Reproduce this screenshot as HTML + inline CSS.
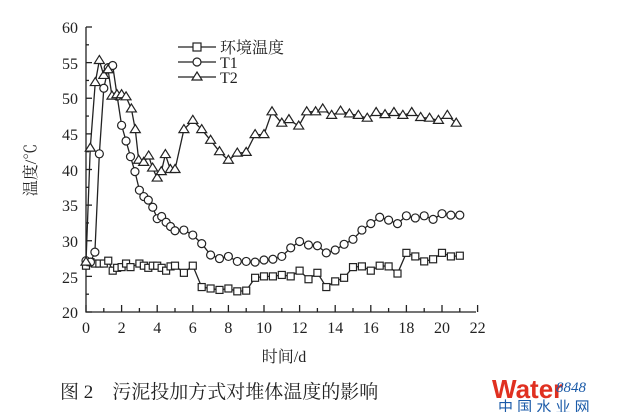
<!DOCTYPE html>
<html><head><meta charset="utf-8"><style>
body{margin:0;background:#fff;width:618px;height:412px;overflow:hidden}
svg{display:block;font-family:"Liberation Serif","Noto Serif CJK SC",serif}
</style></head><body>
<svg id="s" width="618" height="412" viewBox="0 0 618 412">
<g id="ax" stroke="#222" stroke-width="1.3" fill="none">
<path d="M86 27 V312 H476"/>
</g>
<g font-size="16" fill="#222" text-anchor="end">
<text x="78" y="33">60</text><text x="78" y="69">55</text><text x="78" y="104">50</text>
<text x="78" y="140">45</text><text x="78" y="176">40</text><text x="78" y="211">35</text>
<text x="78" y="247">30</text><text x="78" y="283">25</text><text x="78" y="318">20</text>
</g>
<g id="xl" font-size="16" fill="#222" text-anchor="middle"></g>
<text x="36" y="170" font-size="16" fill="#222" transform="rotate(-90 36 170)" text-anchor="middle">温度/℃</text>
<text x="284" y="362" font-size="16" fill="#222" text-anchor="middle">时间/d</text>
<text x="60" y="398" font-size="19" fill="#222">图 2　污泥投加方式对堆体温度的影响</text>
<text x="492" y="398" font-size="26" font-weight="bold" fill="#e03020" font-family="Liberation Sans,sans-serif">Water</text>
<text x="556" y="392" font-size="15" font-style="italic" fill="#1a5aa8">8848</text>
<text x="498" y="412" font-size="15" fill="#1a5aa8" font-family="Liberation Sans,Noto Sans CJK SC,sans-serif">中 国 水 业 网</text>
<g stroke="#222" stroke-width="1.2" fill="none">
<path d="M178 47 H216 M178 62 H216 M178 77 H216"/>
<rect x="193" y="43" width="8" height="8" fill="#fff"/>
<circle cx="197" cy="62" r="4" fill="#fff"/>
<path d="M197 72 L202 80 L192 80 Z" fill="#fff"/>
</g>
<g font-size="16" fill="#222"><text x="220" y="53">环境温度</text><text x="220" y="68">T1</text><text x="220" y="83">T2</text></g>
<g id="d"></g>
</svg>
<script>
var X=d=>86+d*17.8, Y=c=>312-(c-20)*7.125, ns="http://www.w3.org/2000/svg";
function el(t,a,p){var e=document.createElementNS(ns,t);for(var k in a)e.setAttribute(k,a[k]);(p||document.getElementById('d')).appendChild(e);return e;}
var ax=document.getElementById('ax'),xl=document.getElementById('xl');
for(var i=0;i<=22;i++){var x=X(i);el('path',{d:'M'+x+' 312 V'+(i%2?308:305)},ax);if(i%2==0){var t=el('text',{x:x,y:333},xl);t.textContent=i;}}
for(var c=20;c<=60;c+=2.5){el('path',{d:'M86 '+Y(c)+' H'+((c%5)?89:92)},ax);}
var A=[[0,26.5],[0.25,27],[0.5,26.8],[0.75,26.8],[1,26.8],[1.25,27.2],[1.5,25.8],[1.75,26.2],[2,26.3],[2.25,26.8],[2.5,26.3],[3,26.8],[3.25,26.5],[3.5,26.2],[3.75,26.5],[4,26.5],[4.25,26.2],[4.5,25.8],[4.75,26.4],[5,26.5],[5.5,25.5],[6,26.5],[6.5,23.5],[7,23.3],[7.5,23.1],[8,23.3],[8.5,22.9],[9,23],[9.5,24.8],[10,25],[10.5,25],[11,25.2],[11.5,25],[12,25.8],[12.5,24.6],[13,25.5],[13.5,23.5],[14,24.3],[14.5,24.8],[15,26.3],[15.5,26.4],[16,25.8],[16.5,26.5],[17,26.4],[17.5,25.4],[18,28.3],[18.5,27.8],[19,27.1],[19.5,27.4],[20,28.3],[20.5,27.8],[21,27.9]];
var T1=[[0,27.2],[0.25,27],[0.5,28.4],[0.75,42.2],[1,51.4],[1.25,54.3],[1.5,54.6],[1.75,50.3],[2,46.2],[2.25,44],[2.5,41.8],[2.75,39.7],[3,37.1],[3.25,36.2],[3.5,35.7],[3.75,34.7],[4,33.1],[4.25,33.4],[4.5,32.6],[4.75,32],[5,31.4],[5.5,31.5],[6,30.8],[6.5,29.6],[7,28],[7.5,27.5],[8,27.8],[8.5,27.1],[9,27.1],[9.5,27],[10,27.3],[10.5,27.4],[11,27.8],[11.5,29],[12,29.9],[12.5,29.4],[13,29.3],[13.5,28.3],[14,28.7],[14.5,29.5],[15,30.2],[15.5,31.5],[16,32.4],[16.5,33.3],[17,32.9],[17.5,32.4],[18,33.5],[18.5,33.2],[19,33.5],[19.5,33],[20,33.8],[20.5,33.6],[21,33.6]];
var T2=[[0,27],[0.24,43],[0.52,52.2],[0.75,55.3],[1,53.2],[1.24,54],[1.46,50.3],[1.74,50.5],[2,50.5],[2.25,50.2],[2.55,48.5],[2.77,45.6],[2.96,41.3],[3.24,41],[3.52,41.9],[3.74,40.2],[4,38.8],[4.23,39.7],[4.46,42.1],[4.74,40],[5,40],[5.5,45.6],[6,46.9],[6.5,45.6],[7,44.1],[7.5,42.5],[8,41.3],[8.5,42.3],[9,42.4],[9.5,44.9],[10,44.9],[10.45,48.1],[11,46.5],[11.4,47],[11.95,46.1],[12.4,48.1],[12.9,48.1],[13.3,48.5],[13.8,47.6],[14.3,48.2],[14.8,47.8],[15.3,47.6],[15.8,47.2],[16.3,48],[16.8,47.7],[17.3,48],[17.8,47.6],[18.3,48],[18.8,47.3],[19.3,47.2],[19.8,46.9],[20.3,47.6],[20.8,46.5]];
function series(D,m){el('polyline',{points:D.map(p=>X(p[0])+','+Y(p[1])).join(' '),fill:'none',stroke:'#222','stroke-width':1.3});
D.forEach(p=>{var x=X(p[0]),y=Y(p[1]),a={fill:'#fff',stroke:'#222','stroke-width':1.2};
if(m==0){a.x=x-3.5;a.y=y-3.5;a.width=7;a.height=7;el('rect',a);}else if(m==1){a.cx=x;a.cy=y;a.r=4;el('circle',a);}else{a.d='M'+x+' '+(y-5)+' L'+(x+5)+' '+(y+3)+' L'+(x-5)+' '+(y+3)+' Z';el('path',a);}});}
series(A,0);series(T1,1);series(T2,2);
</script>
</body></html>
